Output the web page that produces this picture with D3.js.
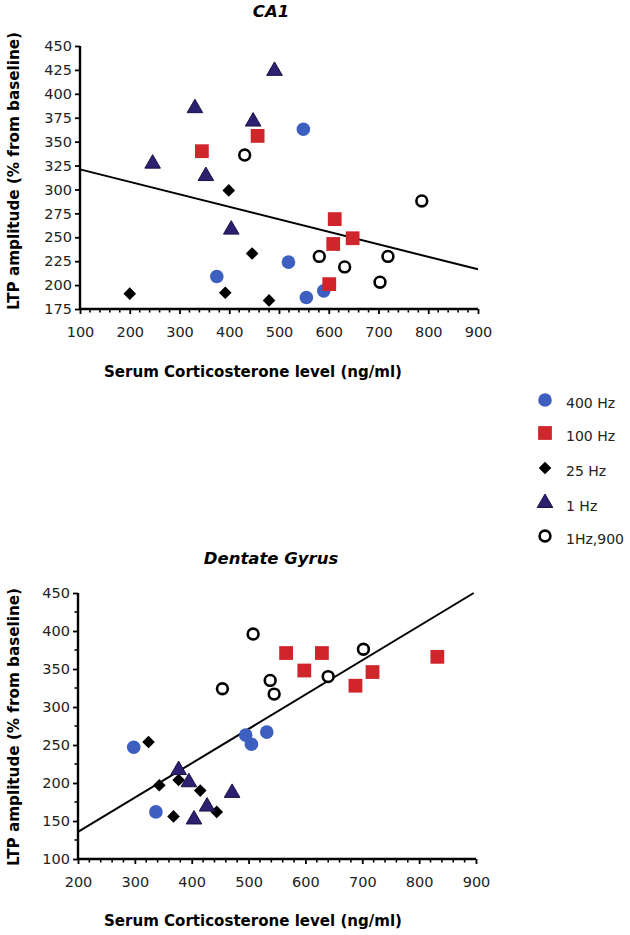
<!DOCTYPE html>
<html><head><meta charset="utf-8">
<script src="https://cdn.jsdelivr.net/npm/d3@7/dist/d3.min.js"></script>
<style>body{margin:0;background:#fff}svg{display:block;font-family:"DejaVu Sans",sans-serif}</style>
</head><body><svg id="c" width="630" height="935"></svg>
<script>
// ---- Data ----
const seriesNames = ["400 Hz", "100 Hz", "25 Hz", "1 Hz", "1Hz,900"];
// CA1 panel
const ca1_400 = [[375,209],[549,363],[519,224],[555,187],[590,194]];
const ca1_100 = [[345,340],[457,356],[612,269],[609,243],[648,249],[601,201]];
const ca1_25  = [[200,191],[399,299],[446,233],[392,192],[480,184]];
const ca1_1   = [[491,424],[331,385],[448,371],[246,327],[353,314],[404,258]];
const ca1_900 = [[431,336],[787,288],[581,230],[632,219],[719,230],[703,203]];
const ca1_fit = [[100,321],[900,216.5]];
const ca1_xTicks = [100,200,300,400,500,600,700,800,900];
const ca1_yTicks = [175,200,225,250,275,300,325,350,375,400,425,450];
// Dentate Gyrus panel
const dg_400 = [[298,247],[337,162],[495,263],[505,251],[532,267]];
const dg_100 = [[566,371],[598,348],[629,371],[688,328],[718,346],[832,366]];
const dg_25  = [[324,254],[343,197],[377,204],[415,190],[368,156],[444,162]];
const dg_1   = [[377,217],[395,201],[427,169],[404,152],[471,187]];
const dg_900 = [[508,396],[454,324],[538,335],[545,317],[702,376],[640,340]];
const dg_fit = [[200,135.6],[896,450]];
const dg_xTicks = [200,300,400,500,600,700,800,900];
const dg_yTicks = [100,150,200,250,300,350,400,450];

const svg = d3.select("#c");
const C_BLUE="#3d5fbf", C_RED="#d0252b", C_NAVY="#2c2170";
const FONT = "DejaVu Sans, sans-serif";

function marker(g, type, x, y){
  if(type==="400 Hz"){
    g.append("circle").attr("cx",x).attr("cy",y).attr("r",6.8).attr("fill",C_BLUE);
  } else if(type==="100 Hz"){
    g.append("path").attr("d",d3.symbol(d3.symbolSquare,190)()).attr("transform",`translate(${x},${y})`).attr("fill",C_RED);
  } else if(type==="25 Hz"){
    g.append("path").attr("d",d3.symbol(d3.symbolSquare,80)()).attr("transform",`translate(${x},${y}) rotate(45)`).attr("fill","#000");
  } else if(type==="1 Hz"){
    g.append("path").attr("d",d3.symbol(d3.symbolTriangle,105)()).attr("transform",`translate(${x},${y})`).attr("fill",C_NAVY).attr("stroke","#1a1245").attr("stroke-width",1);
  } else {
    g.append("circle").attr("cx",x).attr("cy",y).attr("r",5.4).attr("fill","#fff").attr("stroke","#000").attr("stroke-width",2.6);
  }
}

function panel(o){
  const x = d3.scaleLinear().domain(o.xd).range([o.x0,o.x1]);
  const y = d3.scaleLinear().domain(o.yd).range([o.y0,o.y1]);
  const g = svg.append("g");
  g.append("text").attr("x",271).attr("y",o.titleY).attr("text-anchor","middle")
    .attr("font-weight","bold").attr("font-style","italic").attr("font-size",16.5).text(o.title);
  const xa = g.append("g").attr("transform",`translate(0,${o.y0})`)
    .call(d3.axisBottom(x).tickValues(o.xTicks).tickSize(5).tickPadding(13).tickFormat(d3.format("d")));
  const minors = d3.range(o.xd[0],o.xd[1],20).filter(v=>v%100!==0);
  g.append("g").selectAll("line").data(minors).join("line")
    .attr("x1",d=>x(d)).attr("x2",d=>x(d)).attr("y1",o.y0).attr("y2",o.y0+3.5).attr("stroke","#000").attr("stroke-width",1.6);
  const ya = g.append("g").attr("transform",`translate(${o.x0},0)`)
    .call(d3.axisLeft(y).tickValues(o.yTicks).tickSize(5).tickPadding(3).tickFormat(d3.format("d")));
  if(o.yMinor){
    g.append("g").selectAll("line").data(o.yMinor).join("line")
      .attr("x1",o.x0).attr("x2",o.x0-3.5).attr("y1",d=>y(d)).attr("y2",d=>y(d)).attr("stroke","#000").attr("stroke-width",1.6);
  }
  [xa,ya].forEach(a=>{
    a.attr("font-family",FONT).attr("font-size",14.5);
    a.select(".domain").attr("stroke-width",2.4).attr("d", a===xa ? `M${o.x0},0H${o.x1}` : `M0,${o.y0}V${o.y1}`);
    a.selectAll(".tick line").attr("stroke-width",1.8);
    a.selectAll("text").attr("fill","#222");
  });
  g.append("text").attr("x",253).attr("y",o.xTitleY).attr("text-anchor","middle")
    .attr("font-weight","bold").attr("font-size",15).attr("textLength",298).attr("lengthAdjust","spacingAndGlyphs")
    .text("Serum Corticosterone  level (ng/ml)");
  g.append("text").attr("transform",`translate(19,${o.yTitleC}) rotate(-90)`).attr("text-anchor","middle")
    .attr("font-weight","bold").attr("font-size",16).attr("textLength",o.yTitleLen).attr("lengthAdjust","spacingAndGlyphs")
    .text("LTP amplitude (% from baseline)");
  g.append("line").attr("x1",x(o.fit[0][0])).attr("y1",y(o.fit[0][1])).attr("x2",x(o.fit[1][0])).attr("y2",y(o.fit[1][1]))
    .attr("stroke","#000").attr("stroke-width",2);
  const pg = g.append("g");
  o.series.forEach((arr,i)=>arr.forEach(d=>marker(pg, seriesNames[i], x(d[0]), y(d[1]))));
}

panel({title:"CA1", titleY:17, xd:[100,900], yd:[175,450], x0:80, x1:478, y0:309, y1:46,
  xTicks:ca1_xTicks, yTicks:ca1_yTicks, xTitleY:377, yTitleC:171, yTitleLen:278, fit:ca1_fit,
  series:[ca1_400,ca1_100,ca1_25,ca1_1,ca1_900]});
panel({title:"Dentate Gyrus", titleY:564, xd:[200,900], yd:[100,450], x0:78, x1:476, y0:859, y1:593,
  xTicks:dg_xTicks, yTicks:dg_yTicks, yMinor:[125,175,225,275,325,375,425], xTitleY:926, yTitleC:727, yTitleLen:278, fit:dg_fit,
  series:[dg_400,dg_100,dg_25,dg_1,dg_900]});

const lg = svg.append("g");
const legY = [400,433,468,503,536];
seriesNames.forEach((n,i)=>{
  marker(lg, n, 545, legY[i]);
  lg.append("text").attr("x",566).attr("y",legY[i]+8).attr("font-size",14).attr("fill","#222").text(n);
});
</script></body></html>
